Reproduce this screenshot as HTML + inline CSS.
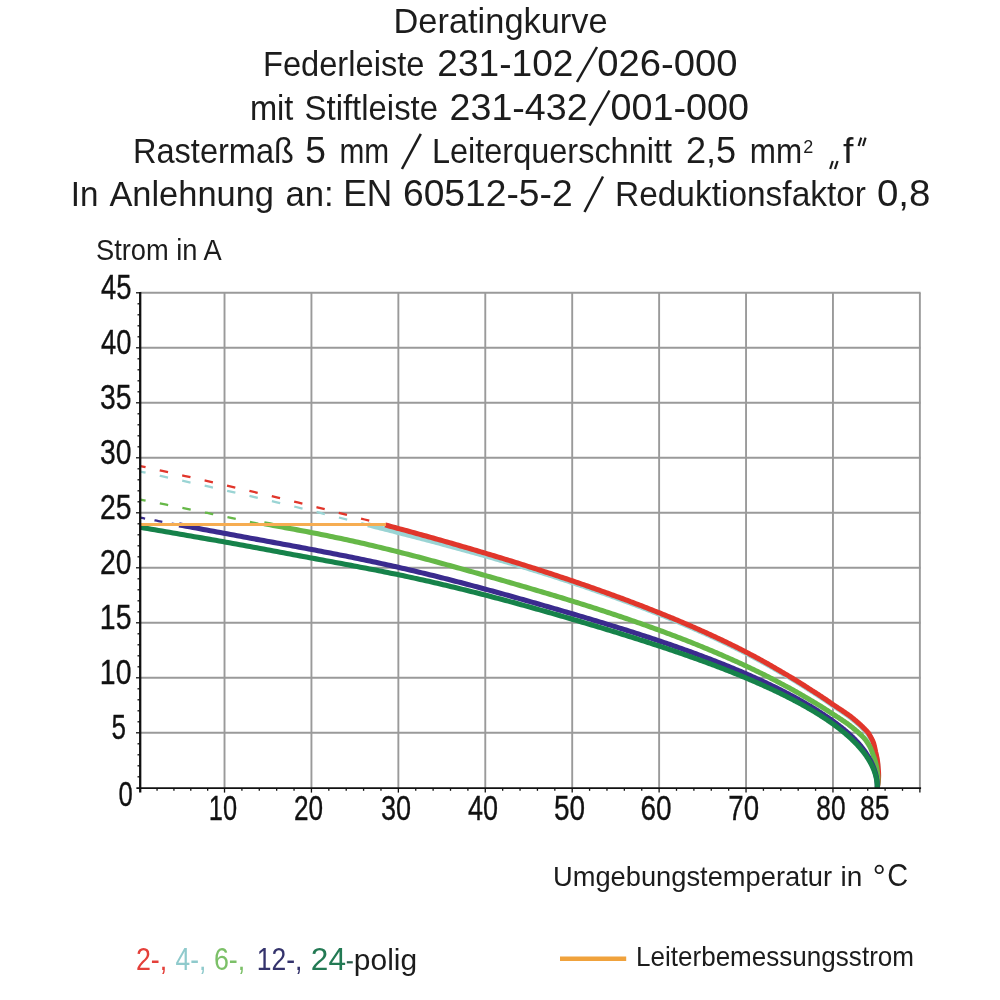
<!DOCTYPE html>
<html><head><meta charset="utf-8"><title>Deratingkurve</title>
<style>
html,body{margin:0;padding:0;background:#fff;}
body{width:1000px;height:1000px;overflow:hidden;font-family:"Liberation Sans",sans-serif;}
svg{display:block;will-change:transform;}
text{font-family:"Liberation Sans",sans-serif;fill:#1c1c1c;}
</style></head><body>
<svg width="1000" height="1000" viewBox="0 0 1000 1000">
<rect width="1000" height="1000" fill="#ffffff"/>

<text x="393.54" y="33.0" font-size="35" textLength="214.08" lengthAdjust="spacingAndGlyphs">Deratingkurve</text>
<text x="262.97" y="76.0" font-size="35" textLength="161.45" lengthAdjust="spacingAndGlyphs">Federleiste</text>
<text x="437.37" y="76.0" font-size="37" textLength="136.07" lengthAdjust="spacingAndGlyphs">231-102</text>
<text x="597.37" y="76.0" font-size="37" textLength="140.26" lengthAdjust="spacingAndGlyphs">026-000</text>
<text x="249.92" y="119.5" font-size="35" textLength="43.48" lengthAdjust="spacingAndGlyphs">mit</text>
<text x="304.56" y="119.5" font-size="35" textLength="133.46" lengthAdjust="spacingAndGlyphs">Stiftleiste</text>
<text x="449.56" y="119.5" font-size="37" textLength="138.08" lengthAdjust="spacingAndGlyphs">231-432</text>
<text x="610.59" y="119.5" font-size="37" textLength="138.42" lengthAdjust="spacingAndGlyphs">001-000</text>
<text x="132.96" y="162.5" font-size="35" textLength="161.06" lengthAdjust="spacingAndGlyphs">Rastermaß</text>
<text x="305.17" y="162.5" font-size="37" textLength="20.70" lengthAdjust="spacingAndGlyphs">5</text>
<text x="339.46" y="162.5" font-size="35" textLength="49.74" lengthAdjust="spacingAndGlyphs">mm</text>
<text x="431.98" y="162.5" font-size="35" textLength="240.02" lengthAdjust="spacingAndGlyphs">Leiterquerschnitt</text>
<text x="685.90" y="162.5" font-size="37" textLength="50.16" lengthAdjust="spacingAndGlyphs">2,5</text>
<text x="749.82" y="162.5" font-size="35" textLength="52.36" lengthAdjust="spacingAndGlyphs">mm</text>
<text x="843.00" y="162.5" font-size="35" textLength="10.45" lengthAdjust="spacingAndGlyphs">f</text>
<text x="70.70" y="206.0" font-size="35" textLength="27.65" lengthAdjust="spacingAndGlyphs">In</text>
<text x="109.39" y="206.0" font-size="35" textLength="164.62" lengthAdjust="spacingAndGlyphs">Anlehnung</text>
<text x="285.52" y="206.0" font-size="35" textLength="48.24" lengthAdjust="spacingAndGlyphs">an:</text>
<text x="343.26" y="206.0" font-size="37" textLength="48.98" lengthAdjust="spacingAndGlyphs">EN</text>
<text x="402.96" y="206.0" font-size="37" textLength="169.67" lengthAdjust="spacingAndGlyphs">60512-5-2</text>
<text x="614.98" y="206.0" font-size="35" textLength="251.03" lengthAdjust="spacingAndGlyphs">Reduktionsfaktor</text>
<text x="876.95" y="206.0" font-size="37" textLength="53.52" lengthAdjust="spacingAndGlyphs">0,8</text>
<text x="95.99" y="260.2" font-size="29.5" textLength="125.81" lengthAdjust="spacingAndGlyphs">Strom in A</text>
<text x="552.99" y="885.6" font-size="28.5" textLength="279.01" lengthAdjust="spacingAndGlyphs">Umgebungstemperatur</text>
<text x="840.60" y="885.6" font-size="28.5" textLength="21.80" lengthAdjust="spacingAndGlyphs">in</text>
<text x="887.24" y="885.6" font-size="30.5" textLength="20.89" lengthAdjust="spacingAndGlyphs">C</text>
<text x="635.98" y="965.8" font-size="28.5" textLength="278.03" lengthAdjust="spacingAndGlyphs">Leiterbemessungsstrom</text>
<text x="135.88" y="970.2" font-size="31" textLength="31.36" lengthAdjust="spacingAndGlyphs" style="fill:#e4403a">2-,</text>
<text x="175.51" y="970.2" font-size="31" textLength="30.74" lengthAdjust="spacingAndGlyphs" style="fill:#8fcacc">4-,</text>
<text x="213.88" y="970.2" font-size="31" textLength="31.36" lengthAdjust="spacingAndGlyphs" style="fill:#7cc068">6-,</text>
<text x="256.83" y="970.2" font-size="31" textLength="45.58" lengthAdjust="spacingAndGlyphs" style="fill:#34336c">12-,</text>
<text x="310.89" y="970.2" font-size="31" textLength="35.16" lengthAdjust="spacingAndGlyphs" style="fill:#237a54">24</text>
<text x="353.88" y="970.2" font-size="29" textLength="63.23" lengthAdjust="spacingAndGlyphs">polig</text>
<text x="99.83" y="684.3" font-size="35" textLength="31.60" lengthAdjust="spacingAndGlyphs" style="fill:#111;stroke:#111;stroke-width:.35px">10</text>
<text x="99.83" y="629.3" font-size="35" textLength="31.60" lengthAdjust="spacingAndGlyphs" style="fill:#111;stroke:#111;stroke-width:.35px">15</text>
<text x="99.92" y="574.3" font-size="35" textLength="31.53" lengthAdjust="spacingAndGlyphs" style="fill:#111;stroke:#111;stroke-width:.35px">20</text>
<text x="99.92" y="519.3" font-size="35" textLength="31.53" lengthAdjust="spacingAndGlyphs" style="fill:#111;stroke:#111;stroke-width:.35px">25</text>
<text x="99.92" y="464.3" font-size="35" textLength="31.53" lengthAdjust="spacingAndGlyphs" style="fill:#111;stroke:#111;stroke-width:.35px">30</text>
<text x="99.92" y="409.3" font-size="35" textLength="31.53" lengthAdjust="spacingAndGlyphs" style="fill:#111;stroke:#111;stroke-width:.35px">35</text>
<text x="101.00" y="354.3" font-size="35" textLength="30.44" lengthAdjust="spacingAndGlyphs" style="fill:#111;stroke:#111;stroke-width:.35px">40</text>
<text x="101.00" y="299.3" font-size="35" textLength="30.44" lengthAdjust="spacingAndGlyphs" style="fill:#111;stroke:#111;stroke-width:.35px">45</text>
<text x="111.40" y="739.3" font-size="35" textLength="14.47" lengthAdjust="spacingAndGlyphs" style="fill:#111;stroke:#111;stroke-width:.35px">5</text>
<text x="118.38" y="805.6" font-size="35" textLength="14.28" lengthAdjust="spacingAndGlyphs" style="fill:#111;stroke:#111;stroke-width:.35px">0</text>
<text x="208.84" y="819.8" font-size="35" textLength="28.24" lengthAdjust="spacingAndGlyphs" style="fill:#111;stroke:#111;stroke-width:.35px">10</text>
<text x="293.94" y="819.8" font-size="35" textLength="29.12" lengthAdjust="spacingAndGlyphs" style="fill:#111;stroke:#111;stroke-width:.35px">20</text>
<text x="380.94" y="819.8" font-size="35" textLength="30.11" lengthAdjust="spacingAndGlyphs" style="fill:#111;stroke:#111;stroke-width:.35px">30</text>
<text x="468.00" y="819.8" font-size="35" textLength="30.03" lengthAdjust="spacingAndGlyphs" style="fill:#111;stroke:#111;stroke-width:.35px">40</text>
<text x="553.95" y="819.8" font-size="35" textLength="31.11" lengthAdjust="spacingAndGlyphs" style="fill:#111;stroke:#111;stroke-width:.35px">50</text>
<text x="640.54" y="819.8" font-size="35" textLength="31.14" lengthAdjust="spacingAndGlyphs" style="fill:#111;stroke:#111;stroke-width:.35px">60</text>
<text x="728.33" y="819.8" font-size="35" textLength="30.75" lengthAdjust="spacingAndGlyphs" style="fill:#111;stroke:#111;stroke-width:.35px">70</text>
<text x="816.32" y="819.8" font-size="35" textLength="29.30" lengthAdjust="spacingAndGlyphs" style="fill:#111;stroke:#111;stroke-width:.35px">80</text>
<text x="859.94" y="819.8" font-size="35" textLength="29.52" lengthAdjust="spacingAndGlyphs" style="fill:#111;stroke:#111;stroke-width:.35px">85</text>
<text x="803.3" y="152.5" font-size="17.5" textLength="10" lengthAdjust="spacingAndGlyphs">2</text>
<circle cx="879.2" cy="869.4" r="3.7" fill="none" stroke="#1c1c1c" stroke-width="1.8"/>
<line x1="346.8" x2="352.8" y1="962.3" y2="962.3" stroke="#2a5a48" stroke-width="2.2"/>
<line x1="830.2" y1="169.0" x2="832.8" y2="161.0" stroke="#1c1c1c" stroke-width="2.2"/>
<line x1="835.0" y1="169.0" x2="837.6" y2="161.0" stroke="#1c1c1c" stroke-width="2.2"/>
<line x1="858.6" y1="146.0" x2="861.2" y2="137.6" stroke="#1c1c1c" stroke-width="2.2"/>
<line x1="863.0" y1="146.0" x2="865.6" y2="137.6" stroke="#1c1c1c" stroke-width="2.2"/>
<line x1="577.0" y1="82.0" x2="597.0" y2="47.0" stroke="#1c1c1c" stroke-width="2.5"/>
<line x1="589.5" y1="125.5" x2="609.5" y2="90.5" stroke="#1c1c1c" stroke-width="2.5"/>
<line x1="402.0" y1="169.0" x2="420.8" y2="133.8" stroke="#1c1c1c" stroke-width="2.5"/>
<line x1="584.5" y1="212.0" x2="603.0" y2="176.5" stroke="#1c1c1c" stroke-width="2.5"/>
<line x1="560" x2="626.2" y1="958.8" y2="958.8" stroke="#f0a23c" stroke-width="4.6"/>
<g stroke="#9a9a9a" stroke-width="1.9" fill="none"><line x1="224.52" x2="224.52" y1="292.80" y2="787.80"/><line x1="311.44" x2="311.44" y1="292.80" y2="787.80"/><line x1="398.36" x2="398.36" y1="292.80" y2="787.80"/><line x1="485.28" x2="485.28" y1="292.80" y2="787.80"/><line x1="572.20" x2="572.20" y1="292.80" y2="787.80"/><line x1="659.12" x2="659.12" y1="292.80" y2="787.80"/><line x1="746.04" x2="746.04" y1="292.80" y2="787.80"/><line x1="832.96" x2="832.96" y1="292.80" y2="787.80"/><line x1="919.88" x2="919.88" y1="292.80" y2="787.80"/><line x1="140.20" x2="920.58" y1="732.80" y2="732.80"/><line x1="140.20" x2="920.58" y1="677.80" y2="677.80"/><line x1="140.20" x2="920.58" y1="622.80" y2="622.80"/><line x1="140.20" x2="920.58" y1="567.80" y2="567.80"/><line x1="140.20" x2="920.58" y1="512.80" y2="512.80"/><line x1="140.20" x2="920.58" y1="457.80" y2="457.80"/><line x1="140.20" x2="920.58" y1="402.80" y2="402.80"/><line x1="140.20" x2="920.58" y1="347.80" y2="347.80"/><line x1="140.20" x2="920.58" y1="292.80" y2="292.80"/></g>
<path d="M140.20,471.56 L150.42,473.76 L160.57,475.96 L170.64,478.16 L180.65,480.36 L190.58,482.56 L200.44,484.76 L210.23,486.96 L219.95,489.15 L229.60,491.35 L239.17,493.55 L248.68,495.75 L258.11,497.95 L267.47,500.15 L276.77,502.35 L285.99,504.55 L295.13,506.75 L304.21,508.95 L313.22,511.15 L322.15,513.35 L331.01,515.55 L339.81,517.75 L348.53,519.95 L357.18,522.15 L365.75,524.35" stroke="#9ad4d4" stroke-width="2.3" stroke-dasharray="8.5 14.5" stroke-dashoffset="3" fill="none"/><path d="M140.20,466.07 L151.29,468.50 L162.29,470.92 L173.20,473.35 L184.04,475.78 L194.79,478.21 L205.45,480.64 L216.03,483.07 L226.53,485.49 L236.94,487.92 L247.27,490.35 L257.52,492.78 L267.68,495.21 L277.76,497.64 L287.75,500.07 L297.66,502.49 L307.48,504.92 L317.23,507.35 L326.88,509.78 L336.46,512.21 L345.95,514.64 L355.35,517.06 L364.67,519.49 L373.91,521.92 L383.06,524.35" stroke="#e1362b" stroke-width="2.3" stroke-dasharray="8.5 14.5" stroke-dashoffset="3" fill="none"/><path d="M140.20,499.56 L145.47,500.59 L150.73,501.62 L155.96,502.66 L161.18,503.69 L166.38,504.72 L171.56,505.76 L176.72,506.79 L181.86,507.82 L186.98,508.85 L192.08,509.89 L197.17,510.92 L202.23,511.95 L207.28,512.99 L212.31,514.02 L217.32,515.05 L222.31,516.09 L227.28,517.12 L232.23,518.15 L237.16,519.18 L242.08,520.22 L246.97,521.25 L251.85,522.28 L256.70,523.32 L261.54,524.35" stroke="#66b848" stroke-width="2.3" stroke-dasharray="8.5 14.5" stroke-dashoffset="3" fill="none"/><path d="M140.20,517.68 L141.72,517.95 L143.23,518.23 L144.75,518.51 L146.26,518.79 L147.77,519.07 L149.28,519.34 L150.79,519.62 L152.29,519.90 L153.80,520.18 L155.30,520.46 L156.80,520.73 L158.30,521.01 L159.80,521.29 L161.29,521.57 L162.79,521.85 L164.28,522.13 L165.77,522.40 L167.26,522.68 L168.75,522.96 L170.24,523.24 L171.73,523.52 L173.21,523.79 L174.69,524.07 L176.17,524.35" stroke="#3a2b8e" stroke-width="2.3" stroke-dasharray="8 9.5" stroke-dashoffset="3" fill="none"/><path d="M367.89,524.75 L370.43,525.39 L372.96,526.03 L375.49,526.68 L378.02,527.32 L380.53,527.96 L383.05,528.60 L385.55,529.24 L388.05,529.88 L390.54,530.51 L393.03,531.15 L395.51,531.79 L397.98,532.42 L400.45,533.06 L402.91,533.69 L405.37,534.33 L407.82,534.96 L410.26,535.60 L412.69,536.23 L415.12,536.86 L417.54,537.49 L419.96,538.12 L422.37,538.75 L424.78,539.38 L427.17,540.01 L429.56,540.64 L431.95,541.27 L434.33,541.90 L436.70,542.53 L439.06,543.16 L441.42,543.79 L443.78,544.42 L446.12,545.05 L448.46,545.68 L450.80,546.31 L453.12,546.94 L455.44,547.57 L457.76,548.19 L460.07,548.82 L462.37,549.45 L464.66,550.08 L466.95,550.71 L469.24,551.34 L471.51,551.97 L473.78,552.61 L476.05,553.24 L478.30,553.87 L480.55,554.50 L482.80,555.13 L485.04,555.77 L487.27,556.40 L489.49,557.03 L491.71,557.67 L493.93,558.30 L496.13,558.94 L498.33,559.57 L500.53,560.21 L502.71,560.85 L504.89,561.49 L507.07,562.12 L509.24,562.76 L511.40,563.40 L513.55,564.04 L515.70,564.68 L517.85,565.33 L519.98,565.97 L522.11,566.61 L524.24,567.26 L526.35,567.90 L528.46,568.55 L530.57,569.19 L532.67,569.84 L534.76,570.49 L536.84,571.13 L538.92,571.78 L541.00,572.43 L543.06,573.08 L545.12,573.73 L547.17,574.38 L549.22,575.04 L551.26,575.69 L553.30,576.34 L555.33,577.00 L557.35,577.65 L559.36,578.30 L561.37,578.96 L563.37,579.61 L565.37,580.27 L567.36,580.93 L569.34,581.58 L571.32,582.24 L573.29,582.90 L575.26,583.55 L577.21,584.21 L579.17,584.87 L581.11,585.53 L583.05,586.19 L584.98,586.85 L586.91,587.51 L588.83,588.17 L590.74,588.83 L592.65,589.49 L594.55,590.15 L596.44,590.81 L598.33,591.47 L600.21,592.13 L602.09,592.79 L603.96,593.45 L605.82,594.11 L607.68,594.78 L609.53,595.44 L611.37,596.10 L613.21,596.76 L615.04,597.42 L616.86,598.09 L618.68,598.75 L620.49,599.41 L622.30,600.07 L624.09,600.74 L625.89,601.40 L627.67,602.06 L629.45,602.72 L631.23,603.39 L632.99,604.05 L634.75,604.71 L636.51,605.38 L638.26,606.04 L640.00,606.70 L641.73,607.37 L643.46,608.03 L645.18,608.70 L646.90,609.36 L648.61,610.02 L650.31,610.69 L652.01,611.35 L653.70,612.01 L655.38,612.68 L657.06,613.34 L658.73,614.01 L660.40,614.67 L662.06,615.34 L663.71,616.00 L665.36,616.66 L667.00,617.33 L668.63,617.99 L670.26,618.66 L671.88,619.32 L673.49,619.99 L675.10,620.65 L676.70,621.32 L678.29,621.98 L679.88,622.65 L681.47,623.31 L683.04,623.98 L684.61,624.64 L686.17,625.31 L687.73,625.97 L689.28,626.64 L690.83,627.30 L692.36,627.97 L693.90,628.63 L695.42,629.30 L696.94,629.96 L698.45,630.63 L699.96,631.29 L701.46,631.96 L702.95,632.62 L704.44,633.29 L705.92,633.95 L707.39,634.62 L708.86,635.29 L710.32,635.95 L711.78,636.62 L713.22,637.28 L714.67,637.95 L716.10,638.61 L717.53,639.28 L718.95,639.94 L720.37,640.61 L721.78,641.27 L723.19,641.94 L724.58,642.60 L725.97,643.27 L727.36,643.93 L728.74,644.60 L730.11,645.26 L731.48,645.93 L732.84,646.60 L734.19,647.26 L735.54,647.93 L736.88,648.59 L738.21,649.26 L739.54,649.92 L740.86,650.59 L742.17,651.25 L743.48,651.92 L744.78,652.58 L746.08,653.25 L747.37,653.91 L748.65,654.58 L749.93,655.24 L751.20,655.91 L752.46,656.57 L753.72,657.24 L754.97,657.90 L756.22,658.56 L757.46,659.23 L758.69,659.89 L759.91,660.56 L761.13,661.22 L762.35,661.89 L763.55,662.55 L764.75,663.22 L765.95,663.88 L767.13,664.55 L768.32,665.21 L769.49,665.88 L770.66,666.54 L771.82,667.20 L772.98,667.87 L774.13,668.53 L775.27,669.20 L776.41,669.86 L777.54,670.53 L778.67,671.19 L779.80,671.85 L780.95,672.52 L782.09,673.18 L783.24,673.85 L784.40,674.51 L785.54,675.18 L786.69,675.84 L787.82,676.51 L788.95,677.17 L790.07,677.83 L791.19,678.50 L792.30,679.16 L793.40,679.83 L794.50,680.49 L795.59,681.16 L796.68,681.82 L797.76,682.48 L798.83,683.15 L799.89,683.81 L800.95,684.48 L802.01,685.14 L803.05,685.80 L804.09,686.47 L805.13,687.13 L806.16,687.80 L807.18,688.46 L808.21,689.12 L809.25,689.79 L810.29,690.45 L811.35,691.12 L812.40,691.78 L813.46,692.44 L814.50,693.11 L815.54,693.77 L816.58,694.44 L817.61,695.10 L818.63,695.76 L819.65,696.43 L820.66,697.09 L821.66,697.76 L822.65,698.42 L823.65,699.08 L824.63,699.75 L825.61,700.41 L826.58,701.07 L827.54,701.74 L828.50,702.40 L829.45,703.06 L830.40,703.73 L831.34,704.39 L832.29,705.05 L833.25,705.72 L834.22,706.38 L835.22,707.04 L836.23,707.71 L837.24,708.37 L838.25,709.04 L839.25,709.70 L840.25,710.36 L841.25,711.03 L842.23,711.69 L843.21,712.35 L844.19,713.02 L845.15,713.68 L846.11,714.34 L847.07,715.01 L848.01,715.67 L848.93,716.33 L849.82,717.00 L850.69,717.66 L851.53,718.32 L852.34,718.98 L853.15,719.65 L853.95,720.31 L854.74,720.97 L855.52,721.63 L856.30,722.30 L857.06,722.96 L857.82,723.62 L858.57,724.28 L859.29,724.94 L860.01,725.60 L860.70,726.27 L861.39,726.93 L862.06,727.59 L862.74,728.25 L863.40,728.91 L864.06,729.57 L864.71,730.23 L865.35,730.90 L865.98,731.56 L866.59,732.22 L867.17,732.88 L867.69,733.54 L868.17,734.20 L868.59,734.86 L868.99,735.52 L869.38,736.18 L869.76,736.84 L870.12,737.50 L870.49,738.16 L870.84,738.81 L871.19,739.47 L871.54,740.13 L871.87,740.79 L872.19,741.45 L872.49,742.11 L872.76,742.77 L873.00,743.43 L873.22,744.09 L873.42,744.74 L873.61,745.40 L873.79,746.06 L873.97,746.72 L874.14,747.38 L874.30,748.04 L874.46,748.69 L874.61,749.35 L874.75,750.01 L874.89,750.67 L875.04,751.33 L875.19,751.98 L875.35,752.64 L875.51,753.30 L875.68,753.96 L875.85,754.62 L876.02,755.28 L876.18,755.93 L876.33,756.59 L876.47,757.25 L876.61,757.91 L876.75,758.57 L876.87,759.22 L876.99,759.88 L877.11,760.54 L877.21,761.20 L877.32,761.86 L877.41,762.51 L877.50,763.17 L877.58,763.83 L877.66,764.49 L877.73,765.14 L877.79,765.80 L877.85,766.46 L877.91,767.12 L877.96,767.77 L878.02,768.43 L878.09,769.09 L878.15,769.75 L878.21,770.40 L878.27,771.06 L878.32,771.72 L878.36,772.38 L878.39,773.03 L878.43,773.69 L878.45,774.35 L878.47,775.01 L878.47,775.66 L878.47,776.32 L878.46,776.98 L878.44,777.64 L878.41,778.29 L878.37,778.95 L878.33,779.61 L878.27,780.26 L878.22,780.92 L878.15,781.58 L878.08,782.23 L878.00,782.89 L877.92,783.55 L877.83,784.20 L877.73,784.86 L877.63,785.52 L877.52,786.17 L877.41,786.83 L877.29,787.49" stroke="#9ad4d4" stroke-width="5.1" fill="none" stroke-linejoin="round"/><path d="M385.13,524.90 L387.58,525.56 L390.03,526.21 L392.47,526.87 L394.91,527.53 L397.34,528.19 L399.77,528.84 L402.19,529.50 L404.61,530.16 L407.01,530.82 L409.42,531.47 L411.81,532.13 L414.20,532.79 L416.59,533.44 L418.96,534.10 L421.34,534.76 L423.70,535.42 L426.06,536.07 L428.41,536.73 L430.76,537.39 L433.10,538.05 L435.44,538.70 L437.77,539.36 L440.09,540.02 L442.40,540.67 L444.71,541.33 L447.02,541.99 L449.32,542.65 L451.61,543.30 L453.89,543.96 L456.17,544.62 L458.45,545.27 L460.71,545.93 L462.97,546.59 L465.23,547.25 L467.48,547.90 L469.72,548.56 L471.96,549.22 L474.19,549.88 L476.41,550.53 L478.63,551.19 L480.84,551.85 L483.04,552.50 L485.24,553.16 L487.44,553.82 L489.62,554.48 L491.80,555.13 L493.98,555.79 L496.15,556.45 L498.31,557.11 L500.47,557.76 L502.62,558.42 L504.76,559.08 L506.90,559.73 L509.03,560.39 L511.16,561.05 L513.28,561.71 L515.39,562.36 L517.50,563.02 L519.60,563.68 L521.69,564.34 L523.78,564.99 L525.86,565.65 L527.94,566.31 L530.01,566.96 L532.07,567.62 L534.13,568.28 L536.18,568.94 L538.23,569.59 L540.27,570.25 L542.30,570.91 L544.33,571.56 L546.35,572.22 L548.36,572.88 L550.37,573.54 L552.37,574.19 L554.37,574.85 L556.36,575.51 L558.35,576.17 L560.32,576.82 L562.30,577.48 L564.26,578.14 L566.22,578.79 L568.17,579.45 L570.12,580.11 L572.06,580.77 L574.00,581.42 L575.92,582.08 L577.85,582.74 L579.76,583.40 L581.67,584.05 L583.58,584.71 L585.48,585.37 L587.37,586.02 L589.25,586.68 L591.13,587.34 L593.01,588.00 L594.87,588.65 L596.73,589.31 L598.59,589.97 L600.44,590.62 L602.28,591.28 L604.12,591.94 L605.95,592.60 L607.77,593.25 L609.59,593.91 L611.40,594.57 L613.21,595.23 L615.01,595.88 L616.80,596.54 L618.59,597.20 L620.37,597.85 L622.14,598.51 L623.91,599.17 L625.67,599.83 L627.43,600.48 L629.18,601.14 L630.92,601.80 L632.66,602.46 L634.39,603.11 L636.12,603.77 L637.84,604.43 L639.55,605.08 L641.26,605.74 L642.96,606.40 L644.66,607.06 L646.34,607.71 L648.03,608.37 L649.70,609.03 L651.37,609.69 L653.04,610.34 L654.70,611.00 L656.35,611.66 L657.99,612.31 L659.63,612.97 L661.27,613.63 L662.89,614.29 L664.51,614.94 L666.13,615.60 L667.74,616.26 L669.34,616.91 L670.94,617.57 L672.53,618.23 L674.11,618.89 L675.69,619.54 L677.26,620.20 L678.83,620.86 L680.39,621.52 L681.94,622.17 L683.49,622.83 L685.03,623.49 L686.56,624.14 L688.09,624.80 L689.61,625.46 L691.13,626.12 L692.64,626.77 L694.15,627.43 L695.64,628.09 L697.14,628.75 L698.62,629.40 L700.10,630.06 L701.57,630.72 L703.04,631.37 L704.50,632.03 L705.96,632.69 L707.41,633.35 L708.85,634.00 L710.29,634.66 L711.72,635.32 L713.14,635.98 L714.56,636.63 L715.97,637.29 L717.38,637.95 L718.78,638.60 L720.17,639.26 L721.56,639.92 L722.94,640.58 L724.31,641.23 L725.68,641.89 L727.04,642.55 L728.40,643.20 L729.75,643.86 L731.09,644.52 L732.43,645.18 L733.76,645.83 L735.09,646.49 L736.41,647.15 L737.72,647.81 L739.03,648.46 L740.33,649.12 L741.63,649.78 L742.92,650.43 L744.20,651.09 L745.48,651.75 L746.75,652.41 L748.01,653.06 L749.27,653.72 L750.52,654.38 L751.77,655.04 L753.01,655.69 L754.24,656.35 L755.47,657.01 L756.69,657.66 L757.90,658.32 L759.11,658.98 L760.31,659.64 L761.51,660.29 L762.70,660.95 L763.89,661.61 L765.06,662.27 L766.24,662.92 L767.40,663.58 L768.56,664.24 L769.71,664.89 L770.86,665.55 L772.00,666.21 L773.14,666.87 L774.27,667.52 L775.39,668.18 L776.51,668.84 L777.62,669.50 L778.73,670.15 L779.85,670.81 L780.97,671.47 L782.10,672.12 L783.24,672.78 L784.37,673.44 L785.50,674.10 L786.63,674.75 L787.75,675.41 L788.86,676.07 L789.97,676.72 L791.07,677.38 L792.17,678.04 L793.26,678.70 L794.34,679.35 L795.42,680.01 L796.49,680.67 L797.55,681.33 L798.61,681.98 L799.66,682.64 L800.71,683.30 L801.75,683.95 L802.78,684.61 L803.81,685.27 L804.83,685.93 L805.85,686.58 L806.86,687.24 L807.88,687.90 L808.90,688.56 L809.93,689.21 L810.97,689.87 L812.01,690.53 L813.05,691.18 L814.09,691.84 L815.12,692.50 L816.15,693.16 L817.17,693.81 L818.19,694.47 L819.20,695.13 L820.20,695.78 L821.20,696.44 L822.19,697.10 L823.17,697.76 L824.15,698.41 L825.12,699.07 L826.09,699.73 L827.05,700.39 L828.00,701.04 L828.95,701.70 L829.89,702.36 L830.83,703.01 L831.76,703.67 L832.70,704.33 L833.65,704.99 L834.63,705.64 L835.62,706.30 L836.62,706.96 L837.63,707.62 L838.63,708.27 L839.63,708.93 L840.63,709.59 L841.62,710.24 L842.60,710.90 L843.58,711.56 L844.55,712.22 L845.51,712.87 L846.47,713.53 L847.42,714.19 L848.36,714.85 L849.28,715.50 L850.17,716.16 L851.04,716.82 L851.87,717.47 L852.69,718.13 L853.49,718.79 L854.28,719.45 L855.07,720.10 L855.85,720.76 L856.62,721.42 L857.38,722.07 L858.14,722.73 L858.88,723.39 L859.61,724.05 L860.32,724.70 L861.02,725.36 L861.70,726.02 L862.37,726.68 L863.04,727.33 L863.70,727.99 L864.35,728.65 L865.00,729.30 L865.64,729.96 L866.27,730.62 L866.89,731.28 L867.48,731.93 L868.03,732.59 L868.52,733.25 L868.96,733.91 L869.36,734.56 L869.74,735.22 L870.11,735.88 L870.47,736.53 L870.83,737.19 L871.18,737.85 L871.52,738.51 L871.86,739.16 L872.18,739.82 L872.50,740.48 L872.81,741.14 L873.09,741.79 L873.34,742.45 L873.56,743.11 L873.76,743.76 L873.95,744.42 L874.12,745.08 L874.29,745.74 L874.45,746.39 L874.60,747.05 L874.75,747.71 L874.89,748.37 L875.03,749.02 L875.16,749.68 L875.29,750.34 L875.42,750.99 L875.56,751.65 L875.70,752.31 L875.86,752.97 L876.02,753.62 L876.18,754.28 L876.33,754.94 L876.48,755.59 L876.62,756.25 L876.76,756.91 L876.89,757.57 L877.01,758.22 L877.13,758.88 L877.24,759.54 L877.35,760.20 L877.45,760.85 L877.54,761.51 L877.63,762.17 L877.71,762.82 L877.79,763.48 L877.86,764.14 L877.92,764.80 L877.98,765.45 L878.03,766.11 L878.08,766.77 L878.13,767.43 L878.18,768.08 L878.23,768.74 L878.29,769.40 L878.34,770.05 L878.40,770.71 L878.44,771.37 L878.48,772.03 L878.52,772.68 L878.55,773.34 L878.57,774.00 L878.58,774.65 L878.59,775.31 L878.59,775.97 L878.58,776.63 L878.56,777.28 L878.53,777.94 L878.49,778.60 L878.45,779.26 L878.40,779.91 L878.34,780.57 L878.27,781.23 L878.20,781.88 L878.12,782.54 L878.04,783.20 L877.95,783.86 L877.85,784.51 L877.75,785.17 L877.64,785.83 L877.53,786.49 L877.41,787.14 L877.29,787.80" stroke="#e1362b" stroke-width="5.1" fill="none" stroke-linejoin="round"/><path d="M264.11,523.71 L267.17,524.28 L270.22,524.84 L273.26,525.40 L276.30,525.96 L279.33,526.52 L282.36,527.08 L285.37,527.64 L288.38,528.20 L291.38,528.76 L294.38,529.32 L297.36,529.88 L300.34,530.44 L303.31,531.00 L306.27,531.57 L309.23,532.13 L312.17,532.71 L315.11,533.28 L318.04,533.86 L320.97,534.44 L323.88,535.02 L326.79,535.61 L329.69,536.20 L332.59,536.79 L335.47,537.39 L338.35,538.00 L341.22,538.61 L344.09,539.22 L346.94,539.83 L349.79,540.45 L352.63,541.08 L355.46,541.71 L358.28,542.34 L361.10,542.97 L363.91,543.61 L366.71,544.26 L369.51,544.90 L372.29,545.56 L375.07,546.21 L377.84,546.87 L380.60,547.53 L383.36,548.19 L386.11,548.86 L388.85,549.53 L391.58,550.21 L394.30,550.89 L397.02,551.57 L399.73,552.25 L402.43,552.93 L405.13,553.62 L407.81,554.31 L410.49,555.00 L413.16,555.70 L415.83,556.40 L418.48,557.09 L421.13,557.79 L423.77,558.49 L426.40,559.20 L429.03,559.90 L431.65,560.61 L434.26,561.31 L436.86,562.02 L439.45,562.72 L442.04,563.43 L444.62,564.14 L447.19,564.85 L449.75,565.55 L452.31,566.26 L454.86,566.97 L457.40,567.68 L459.93,568.38 L462.46,569.09 L464.98,569.79 L467.49,570.50 L469.99,571.20 L472.48,571.90 L474.97,572.60 L477.45,573.30 L479.92,574.00 L482.39,574.70 L484.84,575.40 L487.29,576.09 L489.73,576.79 L492.17,577.48 L494.59,578.17 L497.01,578.86 L499.42,579.55 L501.83,580.24 L504.22,580.92 L506.61,581.61 L508.99,582.29 L511.36,582.98 L513.72,583.66 L516.08,584.34 L518.43,585.02 L520.77,585.70 L523.11,586.38 L525.43,587.06 L527.75,587.73 L530.06,588.41 L532.37,589.08 L534.66,589.76 L536.95,590.43 L539.23,591.10 L541.50,591.78 L543.77,592.45 L546.02,593.12 L548.27,593.79 L550.52,594.46 L552.75,595.13 L554.98,595.80 L557.20,596.47 L559.41,597.14 L561.61,597.81 L563.81,598.48 L565.99,599.15 L568.17,599.82 L570.35,600.48 L572.51,601.15 L574.67,601.82 L576.82,602.49 L578.96,603.16 L581.10,603.83 L583.22,604.49 L585.34,605.16 L587.46,605.83 L589.56,606.50 L591.66,607.16 L593.74,607.83 L595.83,608.50 L597.90,609.17 L599.96,609.84 L602.02,610.50 L604.07,611.17 L606.12,611.84 L608.15,612.51 L610.18,613.18 L612.20,613.85 L614.21,614.51 L616.21,615.18 L618.21,615.85 L620.20,616.52 L622.18,617.19 L624.15,617.86 L626.12,618.53 L628.08,619.20 L630.03,619.87 L631.97,620.54 L633.91,621.20 L635.84,621.87 L637.76,622.54 L639.67,623.21 L641.57,623.88 L643.47,624.55 L645.36,625.22 L647.24,625.89 L649.11,626.56 L650.98,627.23 L652.84,627.90 L654.69,628.58 L656.53,629.25 L658.37,629.92 L660.20,630.59 L662.02,631.26 L663.83,631.93 L665.64,632.60 L667.43,633.27 L669.22,633.94 L671.00,634.61 L672.78,635.28 L674.55,635.95 L676.30,636.63 L678.06,637.30 L679.80,637.97 L681.54,638.64 L683.26,639.31 L684.99,639.98 L686.70,640.65 L688.40,641.32 L690.10,641.99 L691.79,642.66 L693.47,643.33 L695.15,644.00 L696.82,644.67 L698.48,645.34 L700.13,646.01 L701.77,646.68 L703.41,647.35 L705.04,648.02 L706.66,648.69 L708.27,649.36 L709.88,650.03 L711.47,650.70 L713.06,651.37 L714.65,652.04 L716.22,652.71 L717.79,653.38 L719.35,654.04 L720.90,654.71 L722.45,655.38 L723.98,656.05 L725.51,656.72 L727.03,657.38 L728.55,658.05 L730.05,658.72 L731.55,659.38 L733.04,660.05 L734.53,660.72 L736.00,661.38 L737.47,662.05 L738.93,662.71 L740.38,663.38 L741.83,664.04 L743.26,664.71 L744.69,665.37 L746.12,666.04 L747.53,666.70 L748.94,667.36 L750.33,668.03 L751.73,668.69 L753.11,669.35 L754.49,670.02 L755.85,670.68 L757.21,671.34 L758.57,672.01 L759.91,672.67 L761.25,673.33 L762.58,673.99 L763.90,674.65 L765.22,675.32 L766.52,675.98 L767.82,676.64 L769.11,677.30 L770.40,677.96 L771.67,678.62 L772.94,679.28 L774.20,679.94 L775.46,680.60 L776.70,681.26 L777.94,681.92 L779.18,682.58 L780.42,683.24 L781.67,683.90 L782.92,684.56 L784.16,685.22 L785.41,685.88 L786.64,686.54 L787.87,687.20 L789.09,687.86 L790.30,688.52 L791.50,689.18 L792.70,689.84 L793.89,690.50 L795.07,691.16 L796.24,691.82 L797.41,692.47 L798.57,693.13 L799.72,693.79 L800.86,694.45 L802.00,695.11 L803.12,695.77 L804.24,696.42 L805.36,697.08 L806.47,697.74 L807.57,698.40 L808.68,699.06 L809.80,699.72 L810.92,700.37 L812.04,701.03 L813.15,701.69 L814.26,702.35 L815.36,703.01 L816.46,703.66 L817.54,704.32 L818.62,704.98 L819.69,705.64 L820.75,706.29 L821.81,706.95 L822.85,707.61 L823.89,708.27 L824.93,708.92 L825.95,709.58 L826.97,710.24 L827.98,710.90 L828.98,711.56 L829.98,712.21 L830.97,712.87 L831.98,713.53 L833.00,714.18 L834.02,714.84 L835.06,715.50 L836.10,716.16 L837.13,716.81 L838.16,717.47 L839.18,718.13 L840.19,718.79 L841.19,719.44 L842.19,720.10 L843.18,720.76 L844.16,721.42 L845.13,722.07 L846.08,722.73 L847.01,723.39 L847.92,724.05 L848.80,724.70 L849.66,725.36 L850.51,726.02 L851.34,726.68 L852.17,727.33 L852.98,727.99 L853.79,728.65 L854.59,729.30 L855.38,729.96 L856.15,730.62 L856.90,731.28 L857.64,731.93 L858.37,732.59 L859.09,733.25 L859.80,733.91 L860.50,734.56 L861.19,735.22 L861.88,735.88 L862.55,736.53 L863.21,737.19 L863.84,737.85 L864.43,738.51 L864.97,739.16 L865.47,739.82 L865.95,740.48 L866.40,741.14 L866.85,741.79 L867.28,742.45 L867.71,743.11 L868.14,743.76 L868.55,744.42 L868.95,745.08 L869.34,745.74 L869.71,746.39 L870.06,747.05 L870.38,747.71 L870.68,748.36 L870.96,749.02 L871.23,749.68 L871.49,750.34 L871.75,750.99 L871.99,751.65 L872.23,752.31 L872.46,752.97 L872.68,753.62 L872.90,754.28 L873.12,754.94 L873.34,755.59 L873.57,756.25 L873.80,756.91 L874.03,757.57 L874.26,758.22 L874.48,758.88 L874.69,759.54 L874.90,760.20 L875.09,760.85 L875.28,761.51 L875.46,762.17 L875.64,762.82 L875.80,763.48 L875.96,764.14 L876.11,764.80 L876.25,765.45 L876.39,766.11 L876.52,766.77 L876.64,767.43 L876.75,768.08 L876.86,768.74 L876.96,769.40 L877.06,770.05 L877.17,770.71 L877.27,771.37 L877.37,772.03 L877.46,772.68 L877.55,773.34 L877.63,774.00 L877.70,774.65 L877.76,775.31 L877.82,775.97 L877.86,776.63 L877.90,777.28 L877.93,777.94 L877.94,778.60 L877.95,779.26 L877.94,779.91 L877.93,780.57 L877.91,781.23 L877.88,781.88 L877.84,782.54 L877.80,783.20 L877.75,783.86 L877.69,784.51 L877.62,785.17 L877.55,785.83 L877.47,786.49 L877.38,787.14 L877.29,787.80" stroke="#66b848" stroke-width="5.1" fill="none" stroke-linejoin="round"/><path d="M179.10,524.87 L182.58,525.52 L186.05,526.16 L189.52,526.81 L192.98,527.46 L196.43,528.10 L199.87,528.75 L203.31,529.39 L206.73,530.03 L210.15,530.67 L213.56,531.30 L216.96,531.94 L220.35,532.57 L223.73,533.20 L227.10,533.83 L230.47,534.45 L233.82,535.07 L237.17,535.69 L240.51,536.31 L243.84,536.93 L247.16,537.54 L250.47,538.15 L253.77,538.76 L257.07,539.37 L260.35,539.97 L263.63,540.58 L266.90,541.18 L270.16,541.78 L273.41,542.37 L276.65,542.97 L279.89,543.57 L283.11,544.16 L286.33,544.76 L289.53,545.35 L292.73,545.94 L295.92,546.54 L299.10,547.13 L302.28,547.72 L305.44,548.32 L308.59,548.91 L311.74,549.50 L314.88,550.10 L318.01,550.70 L321.13,551.29 L324.24,551.89 L327.34,552.49 L330.43,553.09 L333.52,553.69 L336.60,554.30 L339.66,554.90 L342.72,555.51 L345.77,556.12 L348.81,556.73 L351.85,557.35 L354.87,557.96 L357.89,558.58 L360.89,559.20 L363.89,559.82 L366.88,560.45 L369.86,561.08 L372.83,561.71 L375.80,562.34 L378.75,562.98 L381.70,563.62 L384.63,564.26 L387.56,564.91 L390.48,565.55 L393.39,566.21 L396.29,566.86 L399.18,567.52 L402.07,568.18 L404.94,568.84 L407.81,569.50 L410.67,570.17 L413.52,570.84 L416.36,571.51 L419.19,572.19 L422.02,572.87 L424.83,573.55 L427.64,574.23 L430.43,574.91 L433.22,575.60 L436.00,576.29 L438.77,576.98 L441.53,577.67 L444.29,578.37 L447.03,579.06 L449.77,579.76 L452.50,580.46 L455.21,581.16 L457.92,581.86 L460.63,582.57 L463.32,583.27 L466.00,583.98 L468.68,584.68 L471.34,585.39 L474.00,586.10 L476.65,586.80 L479.29,587.51 L481.92,588.22 L484.54,588.93 L487.16,589.64 L489.76,590.35 L492.36,591.06 L494.95,591.77 L497.53,592.48 L500.10,593.19 L502.66,593.90 L505.21,594.61 L507.75,595.31 L510.29,596.02 L512.82,596.73 L515.33,597.43 L517.84,598.14 L520.34,598.84 L522.83,599.55 L525.32,600.25 L527.79,600.95 L530.26,601.65 L532.71,602.35 L535.16,603.05 L537.60,603.75 L540.03,604.44 L542.45,605.14 L544.87,605.83 L547.27,606.52 L549.67,607.21 L552.05,607.90 L554.43,608.59 L556.80,609.28 L559.16,609.96 L561.51,610.64 L563.86,611.33 L566.19,612.01 L568.52,612.69 L570.84,613.37 L573.14,614.04 L575.44,614.72 L577.73,615.39 L580.02,616.07 L582.29,616.74 L584.55,617.41 L586.81,618.08 L589.06,618.75 L591.30,619.42 L593.53,620.09 L595.75,620.76 L597.96,621.42 L600.16,622.09 L602.36,622.76 L604.54,623.42 L606.72,624.08 L608.89,624.75 L611.05,625.41 L613.20,626.07 L615.35,626.73 L617.48,627.40 L619.60,628.06 L621.72,628.72 L623.83,629.38 L625.93,630.04 L628.02,630.70 L630.10,631.36 L632.17,632.02 L634.24,632.68 L636.29,633.34 L638.34,633.99 L640.38,634.65 L642.40,635.31 L644.42,635.97 L646.44,636.63 L648.44,637.29 L650.43,637.94 L652.42,638.60 L654.40,639.26 L656.36,639.92 L658.32,640.57 L660.27,641.23 L662.22,641.89 L664.15,642.55 L666.07,643.20 L667.99,643.86 L669.90,644.52 L671.79,645.18 L673.68,645.83 L675.56,646.49 L677.44,647.15 L679.30,647.81 L681.15,648.46 L683.00,649.12 L684.84,649.78 L686.67,650.43 L688.48,651.09 L690.30,651.75 L692.10,652.41 L693.89,653.06 L695.68,653.72 L697.45,654.38 L699.22,655.04 L700.98,655.69 L702.73,656.35 L704.47,657.01 L706.20,657.66 L707.93,658.32 L709.64,658.98 L711.35,659.64 L713.04,660.29 L714.73,660.95 L716.41,661.61 L718.08,662.27 L719.75,662.92 L721.40,663.58 L723.05,664.24 L724.68,664.89 L726.31,665.55 L727.93,666.21 L729.54,666.87 L731.14,667.52 L732.73,668.18 L734.32,668.84 L735.89,669.50 L737.46,670.15 L739.02,670.81 L740.57,671.47 L742.11,672.12 L743.64,672.78 L745.16,673.44 L746.67,674.10 L748.18,674.75 L749.68,675.41 L751.17,676.07 L752.64,676.72 L754.12,677.38 L755.58,678.04 L757.03,678.70 L758.47,679.35 L759.91,680.01 L761.34,680.67 L762.76,681.33 L764.16,681.98 L765.57,682.64 L766.96,683.30 L768.34,683.95 L769.72,684.61 L771.08,685.27 L772.44,685.93 L773.79,686.58 L775.13,687.24 L776.46,687.90 L777.78,688.56 L779.10,689.21 L780.40,689.87 L781.70,690.53 L783.00,691.18 L784.28,691.84 L785.56,692.50 L786.83,693.16 L788.09,693.81 L789.34,694.47 L790.58,695.13 L791.82,695.78 L793.04,696.44 L794.26,697.10 L795.47,697.76 L796.67,698.41 L797.86,699.07 L799.04,699.73 L800.21,700.39 L801.37,701.04 L802.53,701.70 L803.68,702.36 L804.81,703.01 L805.94,703.67 L807.07,704.33 L808.18,704.99 L809.29,705.64 L810.39,706.30 L811.49,706.96 L812.57,707.62 L813.65,708.27 L814.72,708.93 L815.78,709.59 L816.83,710.24 L817.87,710.90 L818.90,711.56 L819.93,712.22 L820.94,712.87 L821.95,713.53 L822.95,714.19 L823.94,714.85 L824.92,715.50 L825.89,716.16 L826.86,716.82 L827.81,717.47 L828.76,718.13 L829.71,718.79 L830.65,719.45 L831.58,720.10 L832.50,720.76 L833.42,721.42 L834.33,722.07 L835.23,722.73 L836.12,723.39 L837.00,724.05 L837.87,724.70 L838.74,725.36 L839.59,726.02 L840.44,726.68 L841.27,727.33 L842.10,727.99 L842.91,728.65 L843.71,729.30 L844.50,729.96 L845.28,730.62 L846.05,731.28 L846.82,731.93 L847.57,732.59 L848.32,733.25 L849.05,733.91 L849.78,734.56 L850.49,735.22 L851.20,735.88 L851.90,736.53 L852.59,737.19 L853.27,737.85 L853.94,738.51 L854.60,739.16 L855.25,739.82 L855.89,740.48 L856.52,741.14 L857.14,741.79 L857.74,742.45 L858.32,743.11 L858.90,743.76 L859.47,744.42 L860.02,745.08 L860.57,745.74 L861.11,746.39 L861.64,747.05 L862.16,747.71 L862.68,748.37 L863.18,749.02 L863.67,749.68 L864.15,750.34 L864.61,750.99 L865.07,751.65 L865.52,752.31 L865.96,752.97 L866.39,753.62 L866.81,754.28 L867.23,754.94 L867.63,755.59 L868.03,756.25 L868.42,756.91 L868.80,757.57 L869.17,758.22 L869.54,758.88 L869.90,759.54 L870.25,760.20 L870.60,760.85 L870.93,761.51 L871.26,762.17 L871.58,762.82 L871.88,763.48 L872.18,764.14 L872.48,764.80 L872.76,765.45 L873.03,766.11 L873.30,766.77 L873.55,767.43 L873.80,768.08 L874.04,768.74 L874.27,769.40 L874.49,770.05 L874.71,770.71 L874.91,771.37 L875.11,772.03 L875.30,772.68 L875.49,773.34 L875.66,774.00 L875.83,774.65 L875.98,775.31 L876.13,775.97 L876.27,776.63 L876.40,777.28 L876.52,777.94 L876.64,778.60 L876.74,779.26 L876.83,779.91 L876.92,780.57 L876.99,781.23 L877.06,781.88 L877.12,782.54 L877.17,783.20 L877.21,783.86 L877.24,784.51 L877.27,785.17 L877.28,785.83 L877.29,786.49 L877.29,787.14 L877.29,787.80" stroke="#3a2b8e" stroke-width="5.1" fill="none" stroke-linejoin="round"/><path d="M140.20,527.33 L143.87,527.95 L147.54,528.58 L151.20,529.20 L154.85,529.82 L158.50,530.45 L162.13,531.07 L165.76,531.69 L169.37,532.31 L172.98,532.93 L176.58,533.55 L180.17,534.16 L183.75,534.78 L187.32,535.40 L190.88,536.02 L194.43,536.64 L197.97,537.26 L201.51,537.88 L205.03,538.49 L208.55,539.12 L212.05,539.74 L215.55,540.36 L219.04,540.98 L222.51,541.60 L225.98,542.22 L229.44,542.85 L232.89,543.47 L236.33,544.10 L239.77,544.72 L243.19,545.35 L246.60,545.97 L250.01,546.60 L253.40,547.22 L256.79,547.85 L260.17,548.47 L263.53,549.09 L266.89,549.72 L270.24,550.34 L273.58,550.96 L276.91,551.58 L280.23,552.20 L283.55,552.81 L286.85,553.43 L290.14,554.04 L293.43,554.65 L296.70,555.26 L299.97,555.87 L303.23,556.47 L306.47,557.08 L309.71,557.68 L312.94,558.28 L316.16,558.87 L319.37,559.47 L322.57,560.07 L325.77,560.66 L328.95,561.25 L332.12,561.84 L335.29,562.43 L338.44,563.02 L341.59,563.61 L344.73,564.19 L347.86,564.78 L350.98,565.37 L354.08,565.96 L357.19,566.55 L360.28,567.14 L363.36,567.73 L366.43,568.32 L369.49,568.92 L372.55,569.51 L375.59,570.11 L378.63,570.71 L381.66,571.31 L384.67,571.92 L387.68,572.53 L390.68,573.14 L393.67,573.75 L396.65,574.37 L399.62,574.99 L402.59,575.61 L405.54,576.24 L408.48,576.87 L411.42,577.50 L414.34,578.13 L417.26,578.77 L420.16,579.41 L423.06,580.06 L425.95,580.70 L428.83,581.36 L431.70,582.01 L434.56,582.66 L437.41,583.32 L440.26,583.98 L443.09,584.65 L445.91,585.32 L448.73,585.98 L451.53,586.66 L454.33,587.33 L457.12,588.00 L459.89,588.68 L462.66,589.36 L465.42,590.04 L468.17,590.73 L470.91,591.41 L473.65,592.10 L476.37,592.79 L479.08,593.48 L481.79,594.17 L484.48,594.87 L487.17,595.56 L489.84,596.26 L492.51,596.96 L495.17,597.66 L497.82,598.36 L500.46,599.06 L503.09,599.76 L505.71,600.46 L508.32,601.16 L510.92,601.87 L513.52,602.57 L516.10,603.28 L518.68,603.98 L521.24,604.69 L523.80,605.39 L526.35,606.10 L528.89,606.81 L531.41,607.51 L533.93,608.22 L536.45,608.92 L538.95,609.63 L541.44,610.33 L543.92,611.04 L546.40,611.74 L548.86,612.44 L551.32,613.14 L553.76,613.85 L556.20,614.55 L558.63,615.25 L561.05,615.95 L563.46,616.64 L565.86,617.34 L568.25,618.04 L570.63,618.73 L573.00,619.43 L575.36,620.12 L577.72,620.81 L580.06,621.50 L582.40,622.19 L584.72,622.88 L587.04,623.57 L589.35,624.26 L591.65,624.94 L593.94,625.63 L596.22,626.31 L598.49,627.00 L600.75,627.68 L603.00,628.36 L605.25,629.04 L607.48,629.72 L609.71,630.40 L611.92,631.07 L614.13,631.75 L616.33,632.43 L618.52,633.10 L620.69,633.77 L622.86,634.45 L625.03,635.12 L627.18,635.79 L629.32,636.46 L631.45,637.13 L633.58,637.80 L635.69,638.47 L637.80,639.14 L639.89,639.81 L641.98,640.47 L644.06,641.14 L646.12,641.80 L648.18,642.47 L650.23,643.13 L652.27,643.80 L654.31,644.46 L656.33,645.12 L658.34,645.78 L660.35,646.45 L662.34,647.11 L664.33,647.77 L666.30,648.43 L668.27,649.09 L670.23,649.75 L672.18,650.40 L674.12,651.06 L676.05,651.72 L677.97,652.38 L679.88,653.04 L681.78,653.69 L683.67,654.35 L685.56,655.00 L687.43,655.66 L689.30,656.32 L691.16,656.97 L693.00,657.63 L694.84,658.28 L696.67,658.93 L698.49,659.59 L700.30,660.24 L702.10,660.90 L703.89,661.55 L705.68,662.20 L707.45,662.86 L709.21,663.51 L710.97,664.16 L712.72,664.81 L714.45,665.47 L716.18,666.12 L717.90,666.77 L719.61,667.42 L721.31,668.07 L723.00,668.73 L724.68,669.38 L726.35,670.03 L728.01,670.68 L729.67,671.33 L731.31,671.98 L732.95,672.64 L734.57,673.29 L736.19,673.94 L737.80,674.59 L739.40,675.24 L740.99,675.89 L742.57,676.54 L744.14,677.19 L745.70,677.84 L747.25,678.50 L748.80,679.15 L750.33,679.80 L751.86,680.45 L753.37,681.10 L754.88,681.75 L756.37,682.40 L757.86,683.05 L759.34,683.70 L760.81,684.35 L762.27,685.00 L763.72,685.65 L765.16,686.31 L766.60,686.96 L768.02,687.61 L769.43,688.26 L770.84,688.91 L772.24,689.56 L773.62,690.21 L775.00,690.86 L776.37,691.51 L777.73,692.16 L779.08,692.81 L780.42,693.46 L781.75,694.11 L783.07,694.76 L784.38,695.41 L785.69,696.06 L786.98,696.72 L788.27,697.37 L789.54,698.02 L790.81,698.67 L792.07,699.32 L793.32,699.97 L794.56,700.62 L795.79,701.27 L797.01,701.92 L798.22,702.57 L799.42,703.22 L800.61,703.87 L801.80,704.52 L802.97,705.17 L804.14,705.82 L805.29,706.47 L806.44,707.13 L807.58,707.78 L808.71,708.43 L809.83,709.08 L810.94,709.73 L812.04,710.38 L813.13,711.03 L814.21,711.68 L815.29,712.33 L816.35,712.98 L817.41,713.63 L818.45,714.28 L819.49,714.93 L820.51,715.58 L821.53,716.23 L822.54,716.88 L823.54,717.53 L824.53,718.19 L825.51,718.84 L826.49,719.49 L827.45,720.14 L828.40,720.79 L829.35,721.44 L830.28,722.09 L831.21,722.74 L832.12,723.39 L833.03,724.04 L833.93,724.69 L834.82,725.34 L835.70,725.99 L836.57,726.64 L837.43,727.29 L838.28,727.94 L839.13,728.60 L839.96,729.25 L840.78,729.90 L841.60,730.55 L842.41,731.20 L843.20,731.85 L843.99,732.50 L844.77,733.15 L845.54,733.80 L846.30,734.45 L847.05,735.10 L847.79,735.75 L848.52,736.40 L849.25,737.05 L849.96,737.70 L850.67,738.35 L851.36,739.00 L852.05,739.66 L852.73,740.31 L853.39,740.96 L854.05,741.61 L854.70,742.26 L855.34,742.91 L855.97,743.56 L856.60,744.21 L857.21,744.86 L857.81,745.51 L858.41,746.16 L858.99,746.81 L859.57,747.46 L860.13,748.11 L860.69,748.76 L861.24,749.41 L861.78,750.06 L862.31,750.72 L862.83,751.37 L863.34,752.02 L863.84,752.67 L864.33,753.32 L864.82,753.97 L865.29,754.62 L865.76,755.27 L866.21,755.92 L866.66,756.57 L867.10,757.22 L867.53,757.87 L867.95,758.52 L868.36,759.17 L868.76,759.82 L869.15,760.47 L869.53,761.13 L869.90,761.78 L870.27,762.43 L870.62,763.08 L870.97,763.73 L871.30,764.38 L871.63,765.03 L871.95,765.68 L872.26,766.33 L872.56,766.98 L872.85,767.63 L873.13,768.28 L873.40,768.93 L873.66,769.58 L873.92,770.23 L874.16,770.88 L874.40,771.53 L874.62,772.19 L874.84,772.84 L875.05,773.49 L875.24,774.14 L875.43,774.79 L875.61,775.44 L875.78,776.09 L875.94,776.74 L876.10,777.39 L876.24,778.04 L876.37,778.69 L876.50,779.34 L876.61,779.99 L876.72,780.64 L876.81,781.29 L876.90,781.94 L876.98,782.60 L877.05,783.25 L877.11,783.90 L877.16,784.55 L877.20,785.20 L877.23,785.85 L877.26,786.50 L877.28,787.15 L877.29,787.80" stroke="#16824a" stroke-width="5.1" fill="none" stroke-linejoin="round"/><line x1="140.20" x2="385.93" y1="524.60" y2="524.60" stroke="#f6ad52" stroke-width="3.0"/>
<g stroke="#111"><line x1="140.20" x2="140.20" y1="292.00" y2="792.40" stroke-width="2.3"/><line x1="136.40" x2="921.08" y1="788.20" y2="788.20" stroke-width="1.7"/><line x1="137.50" x2="140.20" y1="776.80" y2="776.80" stroke-width="1.3"/><line x1="137.50" x2="140.20" y1="765.80" y2="765.80" stroke-width="1.3"/><line x1="137.50" x2="140.20" y1="754.80" y2="754.80" stroke-width="1.3"/><line x1="137.50" x2="140.20" y1="743.80" y2="743.80" stroke-width="1.3"/><line x1="136.00" x2="140.20" y1="732.80" y2="732.80" stroke-width="1.3"/><line x1="137.50" x2="140.20" y1="721.80" y2="721.80" stroke-width="1.3"/><line x1="137.50" x2="140.20" y1="710.80" y2="710.80" stroke-width="1.3"/><line x1="137.50" x2="140.20" y1="699.80" y2="699.80" stroke-width="1.3"/><line x1="137.50" x2="140.20" y1="688.80" y2="688.80" stroke-width="1.3"/><line x1="136.00" x2="140.20" y1="677.80" y2="677.80" stroke-width="1.3"/><line x1="137.50" x2="140.20" y1="666.80" y2="666.80" stroke-width="1.3"/><line x1="137.50" x2="140.20" y1="655.80" y2="655.80" stroke-width="1.3"/><line x1="137.50" x2="140.20" y1="644.80" y2="644.80" stroke-width="1.3"/><line x1="137.50" x2="140.20" y1="633.80" y2="633.80" stroke-width="1.3"/><line x1="136.00" x2="140.20" y1="622.80" y2="622.80" stroke-width="1.3"/><line x1="137.50" x2="140.20" y1="611.80" y2="611.80" stroke-width="1.3"/><line x1="137.50" x2="140.20" y1="600.80" y2="600.80" stroke-width="1.3"/><line x1="137.50" x2="140.20" y1="589.80" y2="589.80" stroke-width="1.3"/><line x1="137.50" x2="140.20" y1="578.80" y2="578.80" stroke-width="1.3"/><line x1="136.00" x2="140.20" y1="567.80" y2="567.80" stroke-width="1.3"/><line x1="137.50" x2="140.20" y1="556.80" y2="556.80" stroke-width="1.3"/><line x1="137.50" x2="140.20" y1="545.80" y2="545.80" stroke-width="1.3"/><line x1="137.50" x2="140.20" y1="534.80" y2="534.80" stroke-width="1.3"/><line x1="137.50" x2="140.20" y1="523.80" y2="523.80" stroke-width="1.3"/><line x1="136.00" x2="140.20" y1="512.80" y2="512.80" stroke-width="1.3"/><line x1="137.50" x2="140.20" y1="501.80" y2="501.80" stroke-width="1.3"/><line x1="137.50" x2="140.20" y1="490.80" y2="490.80" stroke-width="1.3"/><line x1="137.50" x2="140.20" y1="479.80" y2="479.80" stroke-width="1.3"/><line x1="137.50" x2="140.20" y1="468.80" y2="468.80" stroke-width="1.3"/><line x1="136.00" x2="140.20" y1="457.80" y2="457.80" stroke-width="1.3"/><line x1="137.50" x2="140.20" y1="446.80" y2="446.80" stroke-width="1.3"/><line x1="137.50" x2="140.20" y1="435.80" y2="435.80" stroke-width="1.3"/><line x1="137.50" x2="140.20" y1="424.80" y2="424.80" stroke-width="1.3"/><line x1="137.50" x2="140.20" y1="413.80" y2="413.80" stroke-width="1.3"/><line x1="136.00" x2="140.20" y1="402.80" y2="402.80" stroke-width="1.3"/><line x1="137.50" x2="140.20" y1="391.80" y2="391.80" stroke-width="1.3"/><line x1="137.50" x2="140.20" y1="380.80" y2="380.80" stroke-width="1.3"/><line x1="137.50" x2="140.20" y1="369.80" y2="369.80" stroke-width="1.3"/><line x1="137.50" x2="140.20" y1="358.80" y2="358.80" stroke-width="1.3"/><line x1="136.00" x2="140.20" y1="347.80" y2="347.80" stroke-width="1.3"/><line x1="137.50" x2="140.20" y1="336.80" y2="336.80" stroke-width="1.3"/><line x1="137.50" x2="140.20" y1="325.80" y2="325.80" stroke-width="1.3"/><line x1="137.50" x2="140.20" y1="314.80" y2="314.80" stroke-width="1.3"/><line x1="137.50" x2="140.20" y1="303.80" y2="303.80" stroke-width="1.3"/><line x1="136.00" x2="140.20" y1="292.80" y2="292.80" stroke-width="1.3"/><line x1="157.06" x2="157.06" y1="788.20" y2="790.80" stroke-width="1.3"/><line x1="173.93" x2="173.93" y1="788.20" y2="790.80" stroke-width="1.3"/><line x1="190.79" x2="190.79" y1="788.20" y2="790.80" stroke-width="1.3"/><line x1="207.66" x2="207.66" y1="788.20" y2="790.80" stroke-width="1.3"/><line x1="224.52" x2="224.52" y1="788.20" y2="792.60" stroke-width="1.3"/><line x1="241.90" x2="241.90" y1="788.20" y2="790.80" stroke-width="1.3"/><line x1="259.29" x2="259.29" y1="788.20" y2="790.80" stroke-width="1.3"/><line x1="276.67" x2="276.67" y1="788.20" y2="790.80" stroke-width="1.3"/><line x1="294.06" x2="294.06" y1="788.20" y2="790.80" stroke-width="1.3"/><line x1="311.44" x2="311.44" y1="788.20" y2="792.60" stroke-width="1.3"/><line x1="328.82" x2="328.82" y1="788.20" y2="790.80" stroke-width="1.3"/><line x1="346.21" x2="346.21" y1="788.20" y2="790.80" stroke-width="1.3"/><line x1="363.59" x2="363.59" y1="788.20" y2="790.80" stroke-width="1.3"/><line x1="380.98" x2="380.98" y1="788.20" y2="790.80" stroke-width="1.3"/><line x1="398.36" x2="398.36" y1="788.20" y2="792.60" stroke-width="1.3"/><line x1="415.74" x2="415.74" y1="788.20" y2="790.80" stroke-width="1.3"/><line x1="433.13" x2="433.13" y1="788.20" y2="790.80" stroke-width="1.3"/><line x1="450.51" x2="450.51" y1="788.20" y2="790.80" stroke-width="1.3"/><line x1="467.90" x2="467.90" y1="788.20" y2="790.80" stroke-width="1.3"/><line x1="485.28" x2="485.28" y1="788.20" y2="792.60" stroke-width="1.3"/><line x1="502.66" x2="502.66" y1="788.20" y2="790.80" stroke-width="1.3"/><line x1="520.05" x2="520.05" y1="788.20" y2="790.80" stroke-width="1.3"/><line x1="537.43" x2="537.43" y1="788.20" y2="790.80" stroke-width="1.3"/><line x1="554.82" x2="554.82" y1="788.20" y2="790.80" stroke-width="1.3"/><line x1="572.20" x2="572.20" y1="788.20" y2="792.60" stroke-width="1.3"/><line x1="589.58" x2="589.58" y1="788.20" y2="790.80" stroke-width="1.3"/><line x1="606.97" x2="606.97" y1="788.20" y2="790.80" stroke-width="1.3"/><line x1="624.35" x2="624.35" y1="788.20" y2="790.80" stroke-width="1.3"/><line x1="641.74" x2="641.74" y1="788.20" y2="790.80" stroke-width="1.3"/><line x1="659.12" x2="659.12" y1="788.20" y2="792.60" stroke-width="1.3"/><line x1="676.50" x2="676.50" y1="788.20" y2="790.80" stroke-width="1.3"/><line x1="693.89" x2="693.89" y1="788.20" y2="790.80" stroke-width="1.3"/><line x1="711.27" x2="711.27" y1="788.20" y2="790.80" stroke-width="1.3"/><line x1="728.66" x2="728.66" y1="788.20" y2="790.80" stroke-width="1.3"/><line x1="746.04" x2="746.04" y1="788.20" y2="792.60" stroke-width="1.3"/><line x1="763.42" x2="763.42" y1="788.20" y2="790.80" stroke-width="1.3"/><line x1="780.81" x2="780.81" y1="788.20" y2="790.80" stroke-width="1.3"/><line x1="798.19" x2="798.19" y1="788.20" y2="790.80" stroke-width="1.3"/><line x1="815.58" x2="815.58" y1="788.20" y2="790.80" stroke-width="1.3"/><line x1="832.96" x2="832.96" y1="788.20" y2="792.60" stroke-width="1.3"/><line x1="850.34" x2="850.34" y1="788.20" y2="790.80" stroke-width="1.3"/><line x1="867.73" x2="867.73" y1="788.20" y2="790.80" stroke-width="1.3"/><line x1="885.11" x2="885.11" y1="788.20" y2="790.80" stroke-width="1.3"/><line x1="902.50" x2="902.50" y1="788.20" y2="790.80" stroke-width="1.3"/><line x1="919.88" x2="919.88" y1="788.20" y2="792.60" stroke-width="1.3"/></g>
</svg></body></html>
